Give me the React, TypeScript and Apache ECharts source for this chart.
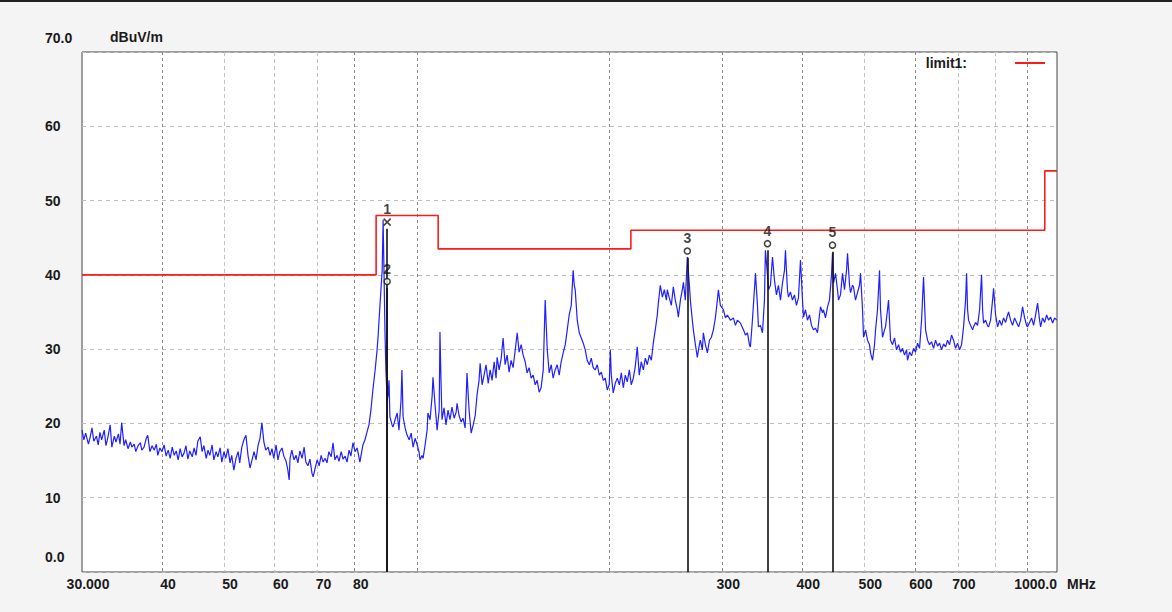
import { useEffect, useRef } from 'react';
import * as echarts from 'echarts';

// Measured scan: [frequency MHz, level dBuV/m]
const traceScan: [number, number][] = [
  [30.0,19.1],[30.2,17.8],[30.4,18.7],[30.7,17.2],[30.9,18.2],[31.1,19.4],[31.3,17.6],[31.6,18.3],[31.8,17.1],[32.0,18.8],
  [32.2,17.8],[32.5,19.1],[32.7,17.0],[32.9,18.0],[33.2,19.8],[33.4,16.8],[33.7,18.3],[33.9,17.5],[34.2,18.6],[34.4,17.2],
  [34.6,20.1],[34.9,17.0],[35.1,17.8],[35.4,16.6],[35.7,17.5],[35.9,16.8],[36.2,17.2],[36.4,16.2],[36.7,17.0],[37.0,17.4],
  [37.2,16.4],[37.5,16.8],[37.8,18.0],[38.0,18.4],[38.3,16.2],[38.6,17.0],[38.9,16.4],[39.2,17.2],[39.4,15.7],[39.7,16.7],
  [40.0,16.2],[40.3,17.1],[40.6,15.6],[40.9,16.4],[41.2,15.3],[41.5,16.8],[41.8,15.7],[42.1,16.3],[42.4,15.1],[42.7,16.6],
  [43.0,15.5],[43.3,16.0],[43.6,17.0],[43.9,15.2],[44.2,16.3],[44.6,15.5],[44.9,16.7],[45.2,15.7],[45.5,17.6],[45.9,18.2],
  [46.2,16.2],[46.5,17.0],[46.9,15.3],[47.2,16.4],[47.5,15.7],[47.9,17.1],[48.2,15.1],[48.6,16.2],[48.9,15.5],[49.3,16.7],
  [49.6,14.8],[50.0,16.2],[50.3,15.3],[50.7,16.6],[51.1,14.7],[51.4,15.7],[51.8,13.7],[52.2,15.3],[52.6,16.2],[52.9,14.7],
  [53.3,16.8],[53.7,17.8],[54.1,18.4],[54.5,15.7],[54.9,14.0],[55.3,15.1],[55.7,16.2],[56.1,15.1],[56.5,17.0],[56.9,18.0],
  [57.3,20.1],[57.7,17.5],[58.1,16.4],[58.6,16.8],[59.0,15.7],[59.4,16.6],[59.8,15.3],[60.3,17.1],[60.7,15.1],[61.1,16.2],
  [61.6,16.7],[62.0,15.6],[62.5,14.9],[62.9,13.7],[63.2,12.4],[63.4,15.3],[63.8,16.4],[64.3,15.1],[64.8,15.7],[65.2,14.7],
  [65.7,16.3],[66.2,15.3],[66.7,16.8],[67.1,14.8],[67.6,14.3],[68.1,15.2],[68.6,13.3],[68.9,12.8],[69.4,14.0],[69.9,15.1],
  [70.4,14.3],[70.9,15.7],[71.4,14.8],[71.9,15.3],[72.4,14.7],[72.9,16.2],[73.5,15.5],[74.0,17.4],[74.5,15.1],[75.1,15.7],
  [75.6,14.9],[76.2,16.2],[76.7,15.2],[77.3,15.6],[77.8,14.8],[78.4,16.4],[78.9,15.6],[79.5,17.4],[80.1,16.2],[80.7,16.7],
  [81.5,14.8],[82.4,17.1],[83.0,17.8],[83.6,18.8],[84.2,19.8],[84.8,21.8],[85.4,24.5],[86.1,27.2],[86.7,29.9],[87.0,31.6],
  [87.6,35.9],[88.3,40.6],[88.6,47.4],[88.9,40.0],[89.2,32.2],[89.5,27.2],[89.9,23.1],[90.2,23.8],[90.5,25.8],[90.8,20.9],
  [91.5,19.8],[91.8,19.5],[92.5,20.5],[93.2,21.4],[93.8,19.1],[94.5,23.1],[94.8,27.2],[95.2,20.9],[95.9,19.4],[96.6,18.4],
  [97.3,17.8],[98.0,18.7],[98.7,16.8],[99.4,18.0],[100.1,17.2],[100.8,16.2],[101.2,15.1],[101.9,15.7],[102.3,15.3],[103.0,17.0],
  [103.8,19.1],[104.1,21.4],[104.9,20.5],[105.7,23.8],[106.0,26.2],[106.8,22.5],[107.6,19.1],[108.4,21.8],[108.7,32.3],[109.1,25.8],
  [109.5,20.5],[110.3,22.1],[111.1,19.8],[111.9,21.8],[112.7,20.5],[113.5,22.2],[114.4,20.7],[115.2,21.5],[115.6,22.7],[116.4,21.1],
  [117.3,20.2],[118.1,20.7],[119.0,19.4],[119.4,23.1],[119.8,26.8],[120.7,21.8],[121.6,18.7],[122.5,19.8],[123.4,21.1],[124.2,23.8],
  [125.1,25.8],[125.6,28.1],[126.5,25.2],[127.4,26.5],[128.3,27.9],[129.3,25.4],[130.2,27.2],[131.1,25.8],[132.1,28.3],[133.0,26.1],
  [133.5,28.9],[134.5,27.2],[135.5,28.8],[136.4,31.5],[137.4,27.9],[138.4,29.2],[139.4,26.9],[140.4,28.5],[141.4,27.5],[142.5,29.9],
  [143.5,32.2],[144.5,29.6],[145.6,30.6],[146.6,29.2],[147.7,28.3],[148.7,26.8],[149.8,27.5],[150.9,26.1],[152.0,26.5],[153.1,25.2],
  [154.2,25.8],[155.3,24.2],[156.4,24.8],[157.6,27.2],[158.7,36.6],[159.9,29.9],[161.0,26.8],[162.2,27.9],[163.3,26.1],[164.5,27.2],
  [165.7,27.9],[166.9,26.5],[168.1,28.3],[169.3,29.5],[170.6,30.6],[171.8,32.6],[173.0,34.6],[174.3,35.9],[175.5,40.6],[176.2,38.6],
  [176.8,38.0],[178.1,33.9],[179.4,32.2],[180.7,31.5],[182.0,30.8],[183.3,29.9],[184.6,28.5],[186.0,27.9],[187.3,28.8],[188.6,27.5],
  [190.0,27.2],[191.4,27.9],[192.8,26.5],[194.2,26.9],[195.6,25.8],[197.0,26.1],[198.4,24.5],[199.8,25.2],[200.6,29.9],[201.3,26.5],
  [202.7,24.1],[204.2,25.4],[205.7,26.1],[207.2,25.2],[208.7,26.8],[210.2,24.8],[211.7,26.5],[213.2,25.6],[214.8,27.2],[216.3,25.2],
  [217.9,26.1],[219.4,27.6],[221.0,30.3],[222.6,26.5],[224.2,28.3],[225.9,27.2],[227.5,28.8],[229.1,27.9],[230.8,29.2],[232.5,28.5],
  [234.1,30.8],[235.8,32.6],[237.5,34.6],[238.4,36.2],[240.1,38.6],[241.9,37.0],[243.6,38.0],[245.4,36.6],[246.2,38.0],[248.0,36.9],
  [249.8,35.9],[251.6,38.4],[253.4,36.6],[255.3,35.3],[256.2,34.3],[258.1,36.6],[259.9,38.0],[260.9,39.0],[262.7,36.6],[264.6,42.4],
  [266.6,38.6],[267.5,36.6],[269.4,33.9],[270.4,32.6],[272.4,30.6],[274.3,28.9],[276.3,30.6],[277.3,31.2],[279.3,29.9],[280.3,32.2],
  [282.4,30.6],[284.4,29.5],[286.5,31.2],[288.5,31.6],[290.6,32.6],[292.7,34.2],[294.8,36.6],[295.9,38.0],[298.0,35.9],[301.3,35.3],
  [303.5,34.2],[305.6,34.6],[309.0,33.9],[312.3,34.2],[314.6,33.2],[316.8,33.9],[320.3,33.5],[323.8,32.6],[326.1,31.9],[328.5,32.2],
  [330.8,30.6],[332.0,30.3],[334.4,33.9],[336.8,38.0],[338.1,40.2],[340.5,35.9],[341.7,33.0],[344.2,33.2],[346.7,32.2],[349.2,36.6],
  [350.4,43.3],[353.0,40.0],[354.3,38.0],[356.8,38.6],[359.4,42.4],[362.0,39.3],[364.6,37.3],[367.2,38.6],[369.9,36.6],[372.6,38.9],
  [375.3,40.6],[376.6,43.3],[379.3,38.0],[380.7,37.0],[383.4,37.7],[386.2,36.6],[389.0,37.3],[391.8,35.9],[394.6,36.9],[397.5,42.0],
  [400.4,36.6],[401.8,34.3],[404.7,35.3],[407.6,33.9],[410.6,34.6],[413.6,33.2],[416.5,32.6],[419.5,32.8],[422.6,32.2],[425.6,34.6],
  [427.2,35.7],[430.3,34.9],[431.8,35.3],[434.9,34.2],[438.1,35.7],[441.2,36.6],[444.4,40.0],[446.0,42.9],[447.6,38.9],[450.9,40.2],
  [454.1,38.0],[455.8,36.6],[459.0,37.3],[462.4,40.2],[465.7,38.0],[469.1,40.6],[470.8,42.9],[474.2,38.6],[475.9,37.6],[479.3,38.6],
  [481.0,38.4],[484.5,36.6],[488.0,37.6],[491.5,38.6],[493.3,40.2],[496.9,35.3],[498.7,31.6],[502.3,32.6],[505.9,31.2],[509.5,30.6],
  [511.4,29.5],[515.1,28.5],[518.8,30.6],[520.7,32.6],[524.4,35.3],[528.2,40.6],[530.1,35.3],[533.9,31.6],[537.8,32.6],[539.7,33.0],
  [543.6,35.3],[545.6,36.6],[549.5,31.2],[553.5,30.6],[557.5,31.5],[561.5,29.9],[565.6,30.6],[569.7,29.6],[573.8,30.1],[577.9,29.2],
  [582.1,29.9],[584.2,28.5],[588.4,29.6],[592.7,29.1],[597.0,30.1],[601.3,29.6],[605.6,30.8],[610.0,30.1],[614.4,33.9],[618.8,39.7],
  [623.3,32.6],[627.8,31.2],[632.3,30.6],[636.9,31.0],[641.5,30.1],[646.1,31.2],[650.8,30.4],[655.5,30.8],[660.2,29.9],[665.0,30.7],
  [669.8,30.3],[674.6,31.2],[679.5,30.6],[684.4,31.9],[689.4,31.2],[694.3,30.1],[699.4,30.8],[704.4,29.9],[709.5,30.6],[714.6,33.0],
  [719.8,36.6],[722.4,40.2],[725.0,35.3],[727.6,33.9],[732.8,33.2],[738.1,32.6],[740.8,33.0],[746.2,33.6],[751.5,33.2],[757.0,35.3],
  [762.4,40.0],[765.2,35.3],[767.9,33.5],[773.5,33.9],[779.1,33.1],[781.9,33.0],[787.5,33.9],[793.2,36.6],[796.1,38.2],[801.8,34.6],
  [807.6,33.0],[813.4,33.9],[819.3,33.2],[825.2,34.2],[831.2,33.6],[837.2,34.6],[840.2,35.0],[846.3,33.9],[852.4,33.2],[858.5,34.2],
  [864.7,33.6],[871.0,33.0],[877.3,33.9],[883.6,35.7],[890.0,34.2],[896.4,33.2],[899.6,33.0],[906.1,33.6],[912.7,34.2],[919.3,33.2],
  [925.9,34.6],[932.6,36.2],[939.3,33.9],[942.7,33.0],[949.5,34.2],[956.4,33.6],[963.3,34.6],[970.2,33.9],[977.2,34.3],[984.3,33.5],
  [991.4,34.2],[998.6,33.9]
];

// limit1 (step line)
const limitMHz = [30, 86.4, 86.4, 108, 108, 216, 216, 957, 957, 1000];
const limitDb = [40, 40, 48, 48, 43.5, 43.5, 46, 46, 54, 54];

// Markers
const markerNo = ['1', '2', '3', '4', '5'];
const markerMHz = [89.9, 89.9, 264.6, 353.0, 446.0];
const markerDb = [47.1, 39.1, 43.2, 44.2, 44.0];
const markerKind = ['x', 'o', 'o', 'o', 'o'];

// Axis ticks
const xMajorGridMHz = [40, 80, 100, 200, 300, 400, 600, 900];
const xMinorGridMHz = [50, 60, 70, 500, 700, 800];
const xLabelMHz = [30, 40, 50, 60, 70, 80, 300, 400, 500, 600, 700, 1000];
const xLabelText = ['30.000', '40', '50', '60', '70', '80', '300', '400', '500', '600', '700', '1000.0'];
const yLabelDb = [0, 10, 20, 30, 40, 50, 60, 70];
const yLabelText = ['0.0', '10', '20', '30', '40', '50', '60', '70.0'];

const L = (f: number) => Math.log10(f);
const FONT = '"Liberation Sans", Arial, sans-serif';

export default function App() {
  const ref = useRef<HTMLDivElement>(null);
  useEffect(() => {
    if (!ref.current) return;
    const chart = echarts.init(ref.current, undefined, { renderer: 'svg' });
    const xMin = L(30);
    const xMax = L(1000);
    const xFmt = (v: number) => {
      const i = xLabelMHz.findIndex((f) => Math.abs(L(f) - v) < 1e-6);
      return i >= 0 ? xLabelText[i] : '';
    };
    const yFmt = (v: number) => {
      const i = yLabelDb.indexOf(Math.round(v));
      const t = i >= 0 ? yLabelText[i] : String(v);
      if (v >= 70) return '{hi|' + t + '}';
      if (v <= 0) return '{lo|' + t + '}';
      return t;
    };
    const labelText = { fontFamily: FONT, fontSize: 14, fontWeight: 'bold' as const, color: '#1a1a1a' };
    const option: any = {
      animation: false,
      backgroundColor: '#f4f4f4',
      textStyle: { fontFamily: FONT },
      graphic: [
        { type: 'rect', shape: { x: 0, y: 0, width: 1172, height: 2 }, style: { fill: '#222' }, silent: true },
      ],
      grid: {
        left: 82, right: 115, top: 52, bottom: 40,
        show: true, backgroundColor: '#ffffff', borderColor: '#444', borderWidth: 1,
      },
      legend: {
        data: ['limit1'],
        right: 127, top: 56, padding: 0,
        align: 'right', icon: 'rect', itemWidth: 30, itemHeight: 2,
        formatter: () => 'limit1:',
        textStyle: { ...labelText, padding: [0, 43, 0, 0] },
      },
      xAxis: [
        {
          type: 'value', min: xMin, max: xMax,
          name: 'MHz', nameLocation: 'end', nameGap: 10,
          nameTextStyle: { ...labelText, verticalAlign: 'top', padding: [5, 0, 0, 0] },
          axisLine: { show: false },
          axisTick: { show: false, customValues: xMajorGridMHz.map(L) },
          axisLabel: {
            ...labelText, customValues: xLabelMHz.map(L), formatter: xFmt,
            margin: 5, padding: [0, 0, 0, 12], alignMaxLabel: 'right', hideOverlap: false,
          },
          splitLine: { show: true, lineStyle: { color: '#8a8a8a', type: [3, 3], width: 1 } },
        },
        {
          type: 'value', min: xMin, max: xMax, position: 'bottom',
          axisLine: { show: false },
          axisTick: { show: false, customValues: xMinorGridMHz.map(L) },
          axisLabel: { show: false },
          splitLine: { show: true, lineStyle: { color: '#c4c4c4', type: [4, 3], width: 1 } },
        },
      ],
      yAxis: {
        type: 'value', min: 0, max: 70, interval: 10,
        name: 'dBuV/m', nameLocation: 'end', nameGap: 8,
        nameTextStyle: { ...labelText, align: 'left', padding: [0, 0, 0, 28] },
        axisLine: { show: false },
        axisTick: { show: false },
        axisLabel: {
          ...labelText, align: 'left', margin: 37, formatter: yFmt,
          rich: {
            hi: { ...labelText, padding: [0, 0, 28, 0] },
            lo: { ...labelText, padding: [0, 0, 30, 0] },
          },
        },
        splitLine: { show: true, lineStyle: { color: '#bdbdbd', type: [4, 4], width: 1 } },
      },
      series: [
        {
          name: 'scan', type: 'line', xAxisIndex: 0,
          data: traceScan.map(([f, d]) => [L(f), d]),
          showSymbol: false, symbol: 'none',
          lineStyle: { color: '#1f1fff', width: 1.2 },
          z: 3,
        },
        {
          name: 'limit1', type: 'line', xAxisIndex: 0,
          data: limitMHz.map((f, i) => [L(f), limitDb[i]]),
          showSymbol: false, symbol: 'none', color: '#ff1a1a',
          lineStyle: { color: '#ff1a1a', width: 1.6 },
          z: 4,
        },
        {
          name: 'markers', type: 'scatter', xAxisIndex: 0,
          data: markerMHz.map((f, i) => ({
            value: [L(f), markerDb[i]],
            symbol: markerKind[i] === 'x' ? 'path://M0,0L10,10M10,0L0,10' : 'circle',
            symbolSize: markerKind[i] === 'x' ? 7 : 6,
            itemStyle: markerKind[i] === 'x'
              ? { color: 'transparent', borderColor: '#111', borderWidth: 1.5 }
              : { color: '#fff', borderColor: '#111', borderWidth: 1.5 },
            label: {
              show: true, position: 'top', distance: 2,
              formatter: markerNo[i],
              fontFamily: FONT, fontSize: 14, fontWeight: 'bold', color: '#111',
            },
          })),
          z: 6,
          markLine: {
            silent: true, symbol: ['none', 'none'], label: { show: false },
            lineStyle: { color: '#111', width: 1.6, type: 'solid' },
            data: markerMHz.map((f, i) => [
              { coord: [L(f), 0] },
              { coord: [L(f), markerDb[i] - 0.9] },
            ]),
          },
        },
      ],
    };
    chart.setOption(option);
    return () => chart.dispose();
  }, []);
  return (
    <div
      ref={ref}
      style={{ position: 'fixed', left: 0, top: 0, width: 1172, height: 612 }}
    />
  );
}
